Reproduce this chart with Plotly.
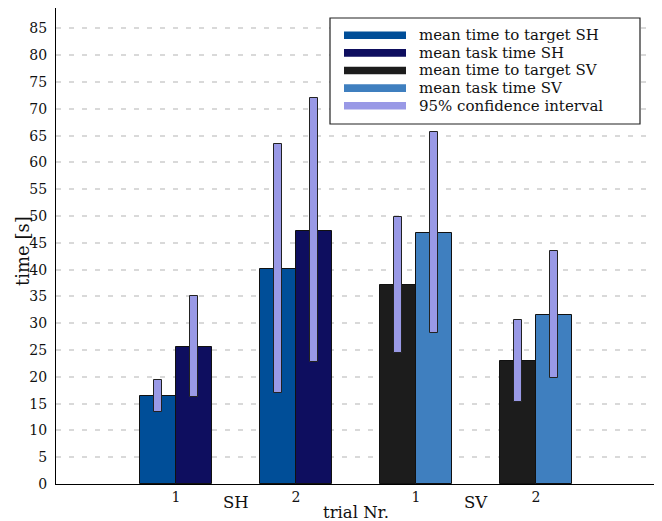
import plotly.graph_objects as go

# ---- data ----
groups = ["SH", "SH", "SV", "SV"]
trials = ["1", "2", "1", "2"]

sh_target_mean = [16.4, 40.2]
sh_target_lo = [13.4, 17.0]
sh_target_hi = [19.4, 63.4]

sh_task_mean = [25.6, 47.2]
sh_task_lo = [16.2, 22.7]
sh_task_hi = [35.1, 72.0]

sv_target_mean = [37.2, 23.0]
sv_target_lo = [24.5, 15.3]
sv_target_hi = [49.9, 30.6]

sv_task_mean = [46.8, 31.6]
sv_task_lo = [28.1, 19.7]
sv_task_hi = [65.6, 43.5]

y_ticks = list(range(0, 90, 5))
ci_label = "95% confidence interval"

# ---- styling ----
FONT = "DejaVu Serif"
C_SH_TARGET = "#004E98"
C_SH_TASK = "#0E0E5F"
C_SV_TARGET = "#1C1C1C"
C_SV_TASK = "#3F7FBF"
C_CI = "#9999E6"
BAR_W = 0.3
CI_W = 0.062

# figure geometry (page has an 8px body margin)
W, H = 654, 513
ML, MR, MT, MB = 48, 6, 0, 37
PW, PH = W - ML - MR, H - MT - MB


def px_x(fx):
    return (fx - ML) / PW


def px_y(fy):
    return (MT + PH - fy) / PH


pos = [i + 1 for i in range(len(trials))]
sh_pos = pos[:2]
sv_pos = pos[2:]

fig = go.Figure()

series = [
    ("mean time to target SH", sh_pos, -1, sh_target_mean, sh_target_lo, sh_target_hi, C_SH_TARGET),
    ("mean task time SH", sh_pos, 1, sh_task_mean, sh_task_lo, sh_task_hi, C_SH_TASK),
    ("mean time to target SV", sv_pos, -1, sv_target_mean, sv_target_lo, sv_target_hi, C_SV_TARGET),
    ("mean task time SV", sv_pos, 1, sv_task_mean, sv_task_lo, sv_task_hi, C_SV_TASK),
]

for name, xs, side, mean, lo, hi, col in series:
    xx = [x + side * BAR_W / 2 for x in xs]
    fig.add_trace(go.Bar(
        x=xx, y=mean, width=BAR_W, name=name, showlegend=False,
        marker=dict(color=col, line=dict(color="#111111", width=1)),
    ))

for name, xs, side, mean, lo, hi, col in series:
    xx = [x + side * BAR_W / 2 for x in xs]
    fig.add_trace(go.Bar(
        x=xx, y=[h - l for h, l in zip(hi, lo)], base=lo, width=CI_W,
        name=ci_label, showlegend=False,
        marker=dict(color=C_CI, line=dict(color="#222222", width=1)),
    ))

# ---- legend box (drawn to match the reference's compact legend) ----
legend_items = [(s[0], s[6]) for s in series] + [(ci_label, C_CI)]
box_l, box_r, box_t, box_b = 322, 632, 10, 116
row0, row_step = 27.3, 17.6
sw_l, sw_r, sw_h = 336, 398, 7.6
txt_l = 410

fig.add_shape(type="rect", xref="paper", yref="paper",
              x0=px_x(box_l), x1=px_x(box_r), y0=px_y(box_b), y1=px_y(box_t),
              fillcolor="white", line=dict(color="#222222", width=1.2), layer="above")
for i, (label, col) in enumerate(legend_items):
    cy = row0 + i * row_step
    fig.add_shape(type="rect", xref="paper", yref="paper",
                  x0=px_x(sw_l), x1=px_x(sw_r), y0=px_y(cy + sw_h / 2), y1=px_y(cy - sw_h / 2),
                  fillcolor=col, line=dict(width=0), layer="above")
    fig.add_annotation(x=px_x(txt_l), xref="paper", y=px_y(cy), yref="paper",
                       text=label, showarrow=False, xanchor="left", yanchor="middle",
                       borderpad=0,
                       font=dict(family=FONT, size=15, color="#111111"))

# group labels
for g, xs in (("SH", sh_pos), ("SV", sv_pos)):
    fig.add_annotation(x=sum(xs) / len(xs), xref="x", y=-18.3 / PH, yref="paper",
                       text=g, showarrow=False, yanchor="middle",
                       font=dict(family=FONT, size=16.5, color="#111111"))

fig.add_annotation(x=0.5, xref="paper", y=-28.7 / PH, yref="paper", text="trial Nr.",
                   showarrow=False, yanchor="middle",
                   font=dict(family=FONT, size=16.5, color="#111111"))

# y axis title
fig.add_annotation(x=px_x(14.5), xref="paper", y=px_y(243.5), yref="paper", text="time [s]",
                   showarrow=False, textangle=-90, xanchor="center", yanchor="middle",
                   font=dict(family=FONT, size=18, color="#111111"))

fig.update_layout(
    width=W, height=H,
    margin=dict(l=ML, r=MR, t=MT, b=MB, pad=0),
    plot_bgcolor="white", paper_bgcolor="white",
    barmode="overlay",
    bargap=0,
    showlegend=False,
    font=dict(family=FONT, color="#111111"),
    xaxis=dict(
        range=[0, 5], tickmode="array", tickvals=pos, ticktext=trials,
        showgrid=False, zeroline=False, showline=True, linecolor="black", linewidth=1.2,
        ticks="", tickfont=dict(family=FONT, size=14, color="#111111"),
        automargin=False, fixedrange=True,
    ),
    yaxis=dict(
        range=[0, PH / 5.36], tickmode="array", tickvals=y_ticks,
        showgrid=True, gridcolor="#d9d9d9", gridwidth=1.5, griddash="5px,8px",
        zeroline=False, showline=True, linecolor="black", linewidth=1.2,
        ticks="", ticklabelstandoff=5, automargin=False,
        tickfont=dict(family=FONT, size=14, color="#111111"),
    ),
)

fig.write_html("out.html")
